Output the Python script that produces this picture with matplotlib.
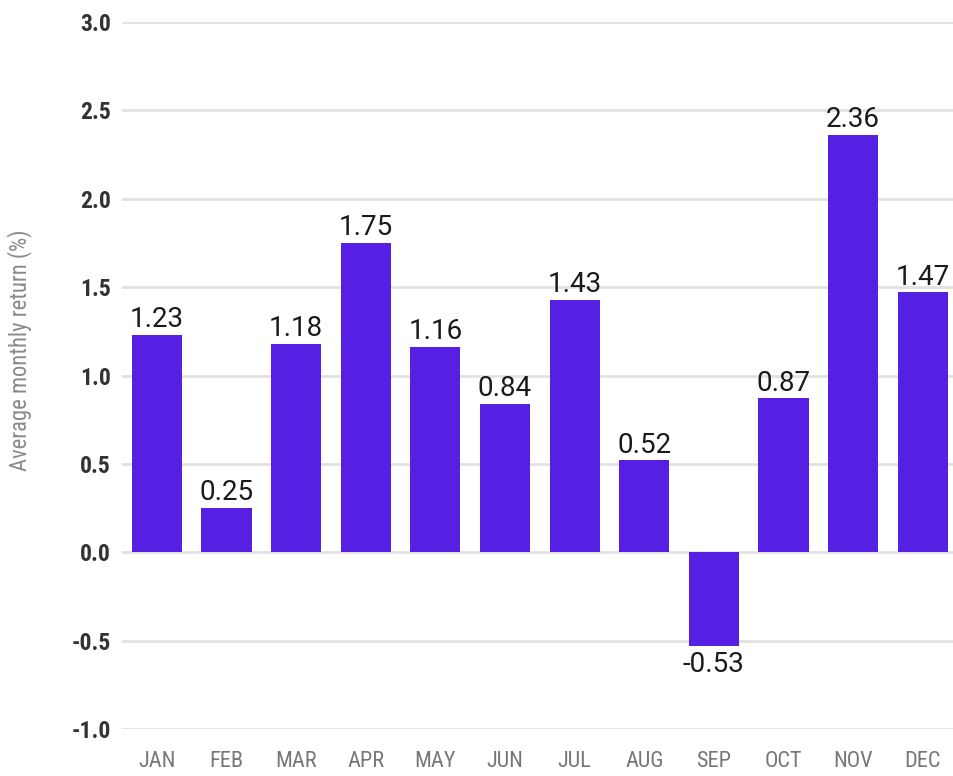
import matplotlib
matplotlib.use("Agg")
import matplotlib.pyplot as plt
from matplotlib import font_manager

# monthly average returns, %
months = ["JAN", "FEB", "MAR", "APR", "MAY", "JUN", "JUL", "AUG", "SEP", "OCT", "NOV", "DEC"]
returns = [1.23, 0.25, 1.18, 1.75, 1.16, 0.84, 1.43, 0.52, -0.53, 0.87, 2.36, 1.47]
y_ticks = [-1.0, -0.5, 0.0, 0.5, 1.0, 1.5, 2.0, 2.5, 3.0]

names = {f.name for f in font_manager.fontManager.ttflist}
narrow = "Roboto Condensed" if "Roboto Condensed" in names else "Roboto"

bar_color = "#5520e4"

fig = plt.figure(figsize=(9.54, 7.76), dpi=100)
ax = fig.add_axes([0.128, 0.0606, 0.872, 0.911])

ax.bar(range(len(months)), returns, width=0.72, color=bar_color, zorder=3)

for i, v in enumerate(returns):
    if v >= 0:
        ax.text(i, v + 0.01, f"{v:.2f}", ha="center", va="bottom",
                fontsize=20, family="Roboto", color="#1a1a1a", zorder=4)
    else:
        ax.text(i, v - 0.03, f"{v:.2f}", ha="center", va="top",
                fontsize=20, family="Roboto", color="#1a1a1a", zorder=4)

ax.set_xlim(-0.5, 11.45)
ax.set_ylim(-1.0, 3.0)
ax.set_yticks(y_ticks)
ax.set_yticklabels([f"{t:.1f}" for t in y_ticks], family=narrow, fontsize=17,
                   fontweight="bold", color="#333333")
ax.set_xticks(range(len(months)))
ax.set_xticklabels(months, family=narrow, fontsize=16, color="#767676")

ax.grid(axis="y", color="#e2e2e2", linewidth=2, zorder=0)
ax.tick_params(axis="both", length=0)
ax.tick_params(axis="y", pad=8)
ax.tick_params(axis="x", pad=16)
for s in ax.spines.values():
    s.set_visible(False)

ax.set_ylabel("Average monthly return (%)", family=narrow, fontsize=16.3,
              color="#8a8a8a")
ax.yaxis.set_label_coords(-0.108, 0.536)

fig.savefig("out.png", dpi=100)
